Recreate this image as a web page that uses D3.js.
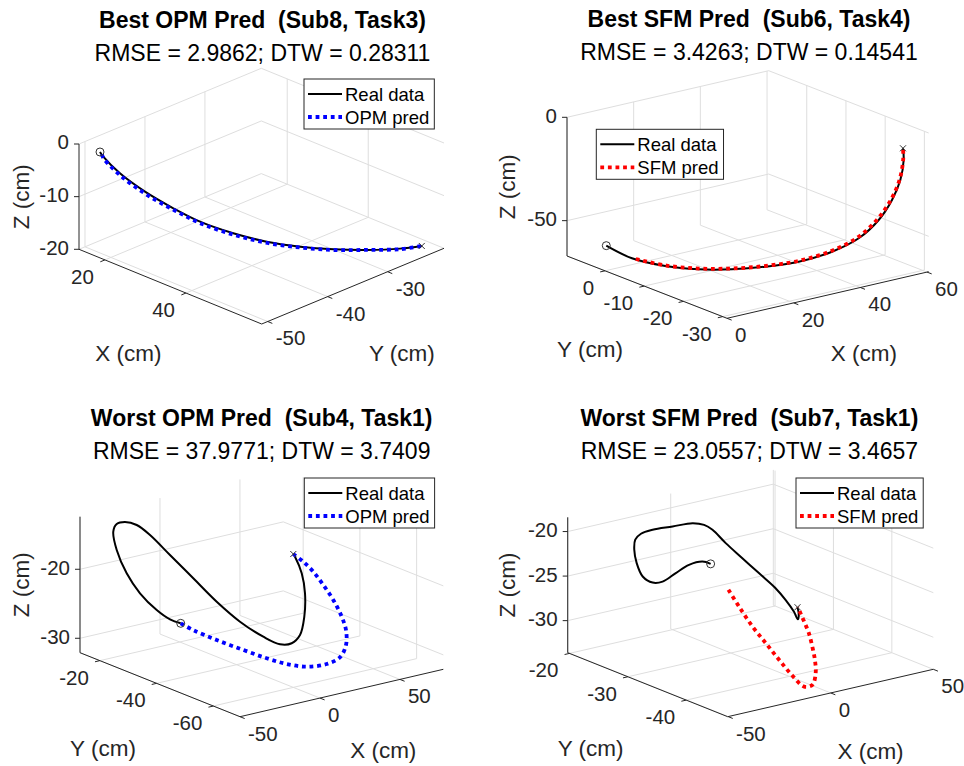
<!DOCTYPE html>
<html>
<head>
<meta charset="utf-8">
<script src="https://cdn.jsdelivr.net/npm/d3@7"></script>
<style>
  body { margin: 0; background: #fff; }
  svg { display: block; font-family: "Liberation Sans", Arial, Helvetica, sans-serif; }
</style>
</head>
<body>
<div id="main"></div>
<script>
// titles
const titles = ['Best OPM Pred  (Sub8, Task3)', 'Best SFM Pred  (Sub6, Task4)',
                'Worst OPM Pred  (Sub4, Task1)', 'Worst SFM Pred  (Sub7, Task1)'];
const subtitles = ['RMSE = 2.9862; DTW = 0.28311', 'RMSE = 3.4263; DTW = 0.14541',
                   'RMSE = 37.9771; DTW = 3.7409', 'RMSE = 23.0557; DTW = 3.4657'];
const predNames = ['OPM pred', 'SFM pred', 'OPM pred', 'SFM pred'];

// axis limits [min, max] (cm)
const xLims = [[13.6, 58.7], [0, 60.5], [-50, 77.1], [-50.2, 50]];
const yLims = [[-51.0, -20.6], [-31.1, 9.7], [-69.4, -13.0], [-47.1, -19.7]];
const zLims = [[-20, 0], [-67.1, 0], [-32.09, -12.38], [-33.6, -18.4]];

// tick values
const xTicks = [[20, 40], [0, 20, 40, 60], [-50, 0, 50], [-50, 0, 50]];
const yTicks = [[-50, -40, -30], [-30, -20, -10, 0], [-60, -40, -20], [-40, -30, -20]];
const zTicks = [[-20, -10, 0], [-50, 0], [-30, -20], [-30, -25, -20]];

// trajectories, [x, y, z] in cm
const bestOpmReal = [[16.19,-49.25,-1.53],[16.60,-48.98,-2.43],[18.66,-47.59,-5.59],[21.75,-45.50,-9.09],
  [25.25,-43.14,-12.26],[28.55,-40.92,-14.82],[32.66,-38.15,-17.04],[36.79,-35.37,-18.65],
  [40.91,-32.59,-19.62],[45.55,-30.18,-19.8],[49.59,-27.35,-20],[53.96,-24.73,-19.6],[56.81,-23.03,-19.0]];
const bestOpmPred = [[16.4,-49.1,-2.0],[16.7,-48.9,-2.9],[18.8,-47.5,-6.1],[21.9,-45.4,-9.6],
  [25.4,-43.0,-12.7],[28.7,-40.8,-15.2],[32.8,-38.0,-17.4],[36.9,-35.3,-18.9],
  [41.0,-32.5,-19.8],[45.6,-30.1,-19.95],[49.6,-27.3,-20],[54.0,-24.7,-19.7],[56.8,-23.0,-19.0]];

const bestSfmReal = [[4.35,3.38,-59.05],[6.43,-1.40,-62.40],[11.66,-5.45,-65.09],[17.69,-8.84,-66.43],
  [24.63,-11.43,-67.1],[31.48,-14.10,-66.43],[38.85,-16.35,-65.09],[46.60,-18.26,-61.73],
  [52.74,-19.85,-56.36],[55.96,-22.21,-46.97],[58.08,-23.80,-36.91],[59.27,-24.91,-26.84],
  [59.51,-25.56,-16.78],[59.0,-25.82,-10.74]];
const bestSfmPred = [[7.0,-1.9,-62.6],[11.9,-5.6,-64.9],[17.9,-8.9,-66.1],[24.8,-11.5,-66.7],
  [31.6,-14.2,-66.0],[38.8,-16.5,-64.5],[46.3,-18.5,-61.0],[52.3,-20.1,-55.4],[55.5,-22.4,-46.0],
  [57.7,-24.0,-36.0],[58.9,-25.1,-26.0],[59.2,-25.7,-16.3],[59.0,-25.82,-10.74]];

const worstOpmReal = [[-21.48,-32.42,-26.18],[-25.81,-31.09,-25.59],[-31.25,-29.47,-24.21],[-37.46,-27.08,-21.84],
  [-41.83,-24.85,-19.08],[-41.52,-21.16,-16.32],[-39.62,-18.88,-14.15],[-37.38,-18.82,-13.17],
  [-34.80,-20.29,-12.77],[-33.13,-23.48,-12.77],[-31.04,-26.99,-13.76],[-28.08,-32.36,-15.93],
  [-25.79,-39.28,-18.29],[-20.89,-44.78,-21.05],[-13.95,-49.08,-23.61],[-3.48,-51.38,-25.98],
  [5.10,-52.43,-27.36],[13.37,-51.89,-27.75],[22.18,-49.85,-27.36],[31.19,-46.29,-25.78],
  [38.47,-42.43,-23.42],[42.11,-39.22,-21.25],[43.80,-35.90,-19.48],[43.04,-35.73,-19.08]];
const worstOpmPred = [[-21.48,-32.42,-26.18],[-17.79,-34.78,-26.97],[-10.32,-38.82,-28.15],[-1.60,-43.27,-29.33],
  [6.17,-47.14,-30.32],[13.77,-49.91,-31.10],[21.67,-52.51,-31.50],[32.23,-53.60,-31.50],
  [41.44,-53.10,-31.10],[49.24,-50.81,-30.12],[53.28,-48.53,-28.54],[53.96,-46.64,-26.97],
  [53.70,-43.82,-24.99],[52.52,-40.96,-23.22],[49.65,-39.05,-21.45],[46.09,-37.53,-20.07],[43.04,-35.73,-19.08]];

const worstSfmReal = [[5.09,-24.75,-25.24],[4.30,-23.61,-25.24],[0.80,-22.55,-25.70],[-4.44,-22.13,-26.46],
  [-9.82,-21.76,-27.22],[-13.66,-21.40,-27.22],[-17.26,-20.97,-26.46],[-19.26,-20.64,-24.94],
  [-19.15,-20.19,-23.57],[-18.39,-20.09,-22.50],[-17.25,-20.67,-21.74],[-15.81,-22.16,-20.98],
  [-12.36,-24.37,-20.22],[-7.75,-26.16,-19.62],[-5.49,-27.35,-19.62],[-3.60,-28.12,-20.07],
  [-0.37,-29.25,-21.44],[3.61,-30.70,-22.96],[7.63,-32.12,-24.48],[11.61,-33.58,-26.00],
  [12.99,-34.80,-27.06],[13.85,-35.92,-28.13],[14.39,-36.41,-28.89],[15.92,-36.04,-28.58],[16.21,-35.72,-27.82]];
const worstSfmPred = [[1.01,-29.23,-26.76],[-1.34,-31.87,-27.82],[-3.22,-34.83,-29.19],[-3.51,-37.21,-30.41],
  [-3.96,-39.65,-31.62],[-4.83,-42.25,-32.69],[-5.34,-44.42,-33.30],[-2.53,-44.86,-33.14],
  [2.32,-43.71,-32.38],[6.02,-42.28,-31.47],[9.21,-40.71,-30.56],[12.24,-39.06,-29.65],
  [13.46,-37.94,-28.89],[15.67,-36.42,-28.28],[16.21,-35.72,-27.82]];

const realSeries = [bestOpmReal, bestSfmReal, worstOpmReal, worstSfmReal];
const predSeries = [bestOpmPred, bestSfmPred, worstOpmPred, worstSfmPred];
const predColors = ['#0000ff', '#ff0000', '#0000ff', '#ff0000'];

// screen layout of each 3D box: origin = (xmin,ymin,zmin), u* = screen span of each axis
const layout = [
  { o: [79, 249.3], ux: [182.7, 74.7], uy: [182.3, -75.7], uz: [0, -105.3],
    xWall: 0, yWall: 1, xAxisY: 0, yAxisX: 1, zAxisXY: [0, 0], xSide: 'left', ySide: 'right',
    xLab: [-42, 68], yLab: [49, 69], zLab: [-56, 0],
    title: [262.5, 27.7], sub: 60.7, legend: [304, 79] },
  { o: [727, 318.3], ux: [201.7, -46.6], uy: [-160, -62.3], uz: [0, -138.7],
    xWall: 1, yWall: 1, xAxisY: 0, yAxisX: 0, zAxisXY: [0, 1], xSide: 'right', ySide: 'left',
    xLab: [36, 60.5], yLab: [-57, 63.5], zLab: [-58, 0],
    title: [749, 26.7], sub: 60, legend: [596.3, 129.3] },
  { o: [240, 716.7], ux: [203.3, -47.4], uy: [-160, -64], uz: [0, -136],
    xWall: 1, yWall: 1, xAxisY: 0, yAxisX: 0, zAxisXY: [0, 1], xSide: 'right', ySide: 'left',
    xLab: [41.6, 59], yLab: [-57, 65], zLab: [-57, 0],
    title: [261.7, 425.7], sub: 459, legend: [304.3, 478] },
  { o: [727.7, 716.7], ux: [205.6, -47.4], uy: [-160, -64], uz: [0, -135.4],
    xWall: 1, yWall: 1, xAxisY: 0, yAxisX: 0, zAxisXY: [0, 1], xSide: 'right', ySide: 'left',
    xLab: [40, 60], yLab: [-57, 65], zLab: [-59, 0],
    title: [749.4, 425.7], sub: 459, legend: [796, 478] }
];

const axisColor = '#262626', gridColor = '#dedede';
const tickFont = 20.5, labelFont = 22.5, titleFont = 23, legendFont = 18.5;
const predDash = '3.8 3.8', predWidth = 3.8;

const svg = d3.select('#main').append('svg')
  .attr('width', 964).attr('height', 766);

function drawPanel(i) {
  const L = layout[i];
  const sx = d3.scaleLinear().domain(xLims[i]).range([0, 1]);
  const sy = d3.scaleLinear().domain(yLims[i]).range([0, 1]);
  const sz = d3.scaleLinear().domain(zLims[i]).range([0, 1]);
  const proj = (x, y, z) => {
    const a = sx(x), b = sy(y), c = sz(z);
    return [L.o[0] + L.ux[0] * a + L.uy[0] * b + L.uz[0] * c,
            L.o[1] + L.ux[1] * a + L.uy[1] * b + L.uz[1] * c];
  };
  const [x0, x1] = xLims[i], [y0, y1] = yLims[i], [z0, z1] = zLims[i];
  const inside = (v, d) => v >= d[0] - 0.3 && v <= d[1] + 0.3;
  const xt = xTicks[i].filter(v => inside(v, xLims[i]));
  const yt = yTicks[i].filter(v => inside(v, yLims[i]));
  const zt = zTicks[i].filter(v => inside(v, zLims[i]));
  const xw = L.xWall ? x1 : x0, yw = L.yWall ? y1 : y0;

  const g = svg.append('g');

  // grid lines on floor and back walls
  const segs = [];
  xt.forEach(v => { segs.push([proj(v, y0, z0), proj(v, y1, z0)]); segs.push([proj(v, yw, z0), proj(v, yw, z1)]); });
  yt.forEach(v => { segs.push([proj(x0, v, z0), proj(x1, v, z0)]); segs.push([proj(xw, v, z0), proj(xw, v, z1)]); });
  zt.forEach(v => { segs.push([proj(xw, y0, v), proj(xw, y1, v)]); segs.push([proj(x0, yw, v), proj(x1, yw, v)]); });
  g.selectAll('line.grid').data(segs).enter().append('line')
    .attr('class', 'grid')
    .attr('x1', d => d[0][0]).attr('y1', d => d[0][1])
    .attr('x2', d => d[1][0]).attr('y2', d => d[1][1])
    .attr('stroke', gridColor).attr('stroke-width', 1);

  // axis lines
  const ya = L.xAxisY ? y1 : y0, xa = L.yAxisX ? x1 : x0;
  const zx = L.zAxisXY[0] ? x1 : x0, zy = L.zAxisXY[1] ? y1 : y0;
  const axes = [[proj(x0, ya, z0), proj(x1, ya, z0)], [proj(xa, y0, z0), proj(xa, y1, z0)],
                [proj(zx, zy, z0), proj(zx, zy, z1)]];
  g.selectAll('line.axis').data(axes).enter().append('line')
    .attr('class', 'axis')
    .attr('x1', d => d[0][0]).attr('y1', d => d[0][1])
    .attr('x2', d => d[1][0]).attr('y2', d => d[1][1])
    .attr('stroke', axisColor).attr('stroke-width', 1);

  const unit = v => { const n = Math.hypot(v[0], v[1]); return [v[0] / n, v[1] / n]; };
  const tickLen = 5;
  const xDir = unit(L.uy).map(c => c * (L.xAxisY ? 1 : -1) * tickLen);
  const yDir = unit(L.ux).map(c => c * (L.yAxisX ? 1 : -1) * tickLen);

  const tickData = [];
  xt.forEach(v => tickData.push({ p: proj(v, ya, z0), d: xDir, v, side: L.xSide }));
  yt.forEach(v => tickData.push({ p: proj(xa, v, z0), d: yDir, v, side: L.ySide }));
  g.selectAll('line.tick').data(tickData).enter().append('line')
    .attr('x1', d => d.p[0]).attr('y1', d => d.p[1])
    .attr('x2', d => d.p[0] + d.d[0]).attr('y2', d => d.p[1] + d.d[1])
    .attr('stroke', axisColor);
  g.selectAll('text.tick').data(tickData).enter().append('text')
    .attr('x', d => d.p[0] + (d.side === 'left' ? -11 : 8))
    .attr('y', d => d.p[1] + 18.5)
    .attr('text-anchor', d => d.side === 'left' ? 'end' : 'start')
    .attr('dominant-baseline', 'middle')
    .attr('font-size', tickFont).attr('fill', axisColor)
    .text(d => String(d.v));

  const zData = zt.map(v => ({ p: proj(zx, zy, v), v }));
  g.selectAll('line.ztick').data(zData).enter().append('line')
    .attr('x1', d => d.p[0]).attr('y1', d => d.p[1])
    .attr('x2', d => d.p[0] - 5).attr('y2', d => d.p[1])
    .attr('stroke', axisColor);
  g.selectAll('text.ztick').data(zData).enter().append('text')
    .attr('x', d => d.p[0] - 10).attr('y', d => d.p[1])
    .attr('text-anchor', 'end').attr('dominant-baseline', 'middle')
    .attr('font-size', tickFont).attr('fill', axisColor)
    .text(d => String(d.v));

  // axis labels
  const mid = (a, b) => [(a[0] + b[0]) / 2, (a[1] + b[1]) / 2];
  const xm = mid(axes[0][0], axes[0][1]), ym = mid(axes[1][0], axes[1][1]), zm = mid(axes[2][0], axes[2][1]);
  g.append('text').attr('x', xm[0] + L.xLab[0]).attr('y', xm[1] + L.xLab[1])
    .attr('text-anchor', 'middle').attr('dominant-baseline', 'middle')
    .attr('font-size', labelFont).attr('fill', axisColor).text('X (cm)');
  g.append('text').attr('x', ym[0] + L.yLab[0]).attr('y', ym[1] + L.yLab[1])
    .attr('text-anchor', 'middle').attr('dominant-baseline', 'middle')
    .attr('font-size', labelFont).attr('fill', axisColor).text('Y (cm)');
  g.append('text')
    .attr('transform', `translate(${zm[0] + L.zLab[0]},${zm[1] + L.zLab[1]}) rotate(-90)`)
    .attr('text-anchor', 'middle').attr('dominant-baseline', 'middle')
    .attr('font-size', labelFont).attr('fill', axisColor).text('Z (cm)');

  // trajectories
  const line = d3.line().curve(d3.curveCatmullRom.alpha(0.5));
  const real = realSeries[i], pred = predSeries[i];
  g.append('path').attr('d', line(real.map(d => proj(...d))))
    .attr('fill', 'none').attr('stroke', '#000').attr('stroke-width', 2);
  g.append('path').attr('d', line(pred.map(d => proj(...d))))
    .attr('fill', 'none').attr('stroke', predColors[i]).attr('stroke-width', predWidth)
    .attr('stroke-dasharray', predDash);

  // start / end markers
  const s = proj(...real[0]), e = proj(...real[real.length - 1]);
  g.append('circle').attr('cx', s[0]).attr('cy', s[1]).attr('r', 4)
    .attr('fill', 'none').attr('stroke', '#333').attr('stroke-width', 1);
  g.append('path').attr('d', `M${e[0] - 3},${e[1] - 3}L${e[0] + 3},${e[1] + 3}M${e[0] - 3},${e[1] + 3}L${e[0] + 3},${e[1] - 3}`)
    .attr('stroke', '#333').attr('stroke-width', 1);

  // titles
  g.append('text').attr('x', L.title[0]).attr('y', L.title[1])
    .attr('text-anchor', 'middle').attr('font-size', titleFont).attr('font-weight', 'bold')
    .style('white-space', 'pre').attr('fill', '#000').text(titles[i]);
  g.append('text').attr('x', L.title[0]).attr('y', L.sub)
    .attr('text-anchor', 'middle').attr('font-size', titleFont)
    .attr('fill', '#000').text(subtitles[i]);

  // legend
  const lg = g.append('g').attr('transform', `translate(${L.legend[0]},${L.legend[1]})`);
  const box = lg.append('rect').attr('fill', '#fff').attr('stroke', axisColor).attr('stroke-width', 1);
  const entries = [{ name: 'Real data', color: '#000', dash: null, w: 2 },
                   { name: predNames[i], color: predColors[i], dash: predDash, w: predWidth }];
  let maxW = 0;
  entries.forEach((en, k) => {
    const yy = 15 + k * 23;
    lg.append('line').attr('x1', 4).attr('x2', 38).attr('y1', yy).attr('y2', yy)
      .attr('stroke', en.color).attr('stroke-width', en.w).attr('stroke-dasharray', en.dash);
    const t = lg.append('text').attr('x', 41).attr('y', yy + 6.5)
      .attr('font-size', legendFont).attr('fill', '#000').text(en.name);
    maxW = Math.max(maxW, t.node().getComputedTextLength());
  });
  box.attr('width', 41 + maxW + 5).attr('height', 50);
}

[0, 1, 2, 3].forEach(drawPanel);
</script>
</body>
</html>
